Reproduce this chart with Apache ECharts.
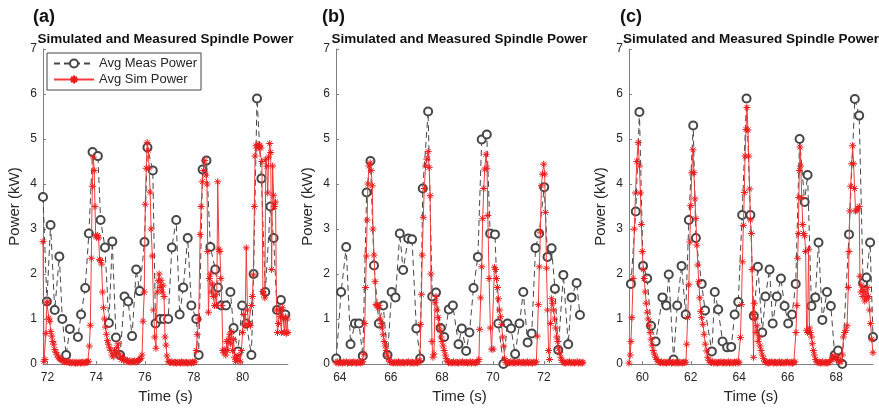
<!DOCTYPE html>
<html>
<head>
<meta charset="utf-8">
<title>Simulated and Measured Spindle Power</title>
<script src="https://cdn.jsdelivr.net/npm/echarts@6/dist/echarts.min.js"></script>
<style>
  html, body { margin: 0; padding: 0; background: #fff; }
  #chart { width: 879px; height: 409px; }
</style>
</head>
<body>
<div id="chart"></div>
<script>
// ---- tick positions (s) ----
const ticksA = [72, 74, 76, 78, 80];
const ticksB = [64, 66, 68, 70, 72];
const ticksC = [60, 62, 64, 66, 68];

// ---- (a) measured average spindle power [time s, kW] ----
const measA = [
  [71.82,3.71],[71.98,1.39],[72.13,3.09],[72.3,1.2],[72.49,2.39],[72.61,1.0],[72.77,0.2],[72.92,0.78],
  [73.25,0.6],[73.38,1.1],[73.55,1.69],[73.7,2.9],[73.85,4.71],[74.07,4.62],[74.18,3.2],[74.36,2.59],
  [74.52,0.91],[74.66,2.72],[74.81,0.59],[74.98,0.2],[75.16,1.5],[75.31,1.39],[75.47,0.62],[75.64,2.1],
  [75.78,1.62],[75.98,2.71],[76.1,4.81],[76.32,4.3],[76.43,0.9],[76.62,1.0],[76.77,1.0],[76.95,1.0],
  [77.1,2.59],[77.28,3.2],[77.42,1.1],[77.57,1.7],[77.75,2.8],[77.9,1.3],[78.1,1.0],[78.2,0.2],
  [78.36,4.32],[78.52,4.52],[78.68,2.6],[78.88,2.1],[78.99,1.7],[79.13,1.3],[79.32,1.3],[79.5,1.6],
  [79.63,0.8],[79.81,0.28],[79.98,1.3],[80.15,0.9],[80.36,0.2],[80.45,2.0],[80.59,5.9],[80.77,4.12],
  [80.93,1.6],[81.14,3.5],[81.27,2.8],[81.41,1.2],[81.57,1.42],[81.75,1.1]
];

// ---- (a) simulated average spindle power [time s, kW] ----
const simA = [
  [71.82,2.72],[71.86,0.06],[71.9,0.1],[71.94,0.68],[71.98,1.36],[72.02,1.38],[72.06,1.02],[72.1,0.95],
  [72.14,0.72],[72.18,0.62],[72.22,0.5],[72.26,0.44],[72.3,0.32],[72.35,0.26],[72.4,0.2],[72.45,0.15],
  [72.5,0.12],[72.55,0.1],[72.6,0.08],[72.65,0.07],[72.7,0.05],[72.75,0.06],[72.8,0.04],[72.85,0.05],
  [72.9,0.03],[72.95,0.04],[73.0,0.02],[73.05,0.04],[73.1,0.03],[73.15,0.02],[73.2,0.03],[73.25,0.02],
  [73.3,0.04],[73.35,0.02],[73.4,0.03],[73.45,0.04],[73.5,0.02],[73.55,0.03],[73.6,0.05],[73.65,0.04],
  [73.69,0.06],[73.72,0.4],[73.76,0.86],[73.8,2.35],[73.84,3.95],[73.88,4.6],[73.92,4.3],[73.95,3.5],
  [73.98,2.85],[74.02,2.82],[74.06,2.86],[74.1,2.8],[74.14,2.32],[74.18,2.3],[74.22,2.22],[74.26,1.6],
  [74.3,1.25],[74.34,1.0],[74.38,0.82],[74.42,0.66],[74.46,0.52],[74.5,0.44],[74.55,0.36],[74.6,0.3],
  [74.65,0.2],[74.7,0.16],[74.75,0.3],[74.8,0.22],[74.85,0.36],[74.9,0.45],[74.94,0.24],[74.98,0.16],
  [75.03,0.1],[75.08,0.14],[75.13,0.08],[75.18,0.1],[75.23,0.06],[75.28,0.08],[75.33,0.05],[75.38,0.07],
  [75.43,0.04],[75.48,0.06],[75.53,0.05],[75.58,0.07],[75.63,0.04],[75.68,0.06],[75.73,0.08],[75.78,0.1],
  [75.83,0.12],[75.88,0.2],[75.92,0.95],[75.97,1.6],[76.01,3.55],[76.05,4.35],[76.09,4.92],[76.13,4.75],
  [76.17,4.35],[76.21,3.82],[76.25,3.0],[76.3,2.4],[76.35,1.2],[76.4,0.6],[76.45,0.35],[76.5,1.6],
  [76.54,1.85],[76.58,2.0],[76.62,1.7],[76.66,1.86],[76.7,1.6],[76.74,1.75],[76.78,1.5],[76.82,0.6],
  [76.86,0.42],[76.9,0.18],[76.95,0.06],[77.0,0.04],[77.05,0.03],[77.1,0.05],[77.15,0.02],[77.2,0.04],
  [77.25,0.03],[77.3,0.02],[77.35,0.04],[77.4,0.03],[77.45,0.02],[77.5,0.05],[77.55,0.03],[77.6,0.02],
  [77.65,0.04],[77.7,0.03],[77.75,0.02],[77.8,0.04],[77.85,0.03],[77.9,0.02],[77.95,0.04],[78.0,0.03],
  [78.05,0.05],[78.1,0.3],[78.14,0.66],[78.2,1.0],[78.26,2.88],[78.3,3.5],[78.35,4.05],[78.4,4.3],
  [78.45,4.52],[78.5,4.2],[78.54,4.0],[78.57,2.5],[78.6,1.15],[78.64,1.9],[78.68,2.0],[78.72,1.6],
  [78.76,1.78],[78.8,1.5],[78.85,1.3],[78.9,1.55],[78.94,1.3],[78.98,4.05],[79.03,2.55],[79.07,2.5],
  [79.11,1.9],[79.15,1.3],[79.19,0.3],[79.23,0.25],[79.27,0.32],[79.31,0.2],[79.35,0.5],[79.39,0.3],
  [79.43,0.55],[79.47,0.66],[79.51,0.45],[79.55,0.72],[79.59,0.3],[79.63,0.55],[79.67,0.15],[79.71,0.06],
  [79.75,0.12],[79.8,0.08],[79.85,0.2],[79.9,0.05],[79.95,0.3],[80.0,0.7],[80.05,1.1],[80.1,0.85],
  [80.15,2.58],[80.2,1.2],[80.24,0.88],[80.28,0.9],[80.32,0.85],[80.36,1.3],[80.4,1.5],[80.44,1.98],
  [80.48,3.5],[80.51,4.62],[80.55,4.85],[80.59,4.8],[80.63,4.88],[80.67,4.82],[80.71,4.86],[80.75,4.8],
  [80.79,4.5],[80.83,1.61],[80.87,1.55],[80.91,1.47],[80.95,4.55],[80.99,4.4],[81.03,3.8],[81.07,4.6],
  [81.11,4.9],[81.15,4.7],[81.19,2.1],[81.23,4.4],[81.27,3.75],[81.31,3.5],[81.35,3.6],[81.39,1.2],
  [81.43,0.7],[81.47,0.9],[81.51,1.2],[81.55,1.05],[81.59,0.7],[81.63,1.25],[81.67,1.0],[81.71,0.7],
  [81.75,1.05],[81.79,0.68],[81.83,1.0],[81.86,0.7]
];

// ---- (b) measured ----
const measB = [
  [63.86,0.12],[64.05,1.6],[64.25,2.6],[64.42,0.44],[64.59,0.9],[64.75,0.9],[64.9,0.18],[65.05,3.81],
  [65.2,4.51],[65.34,2.19],[65.53,0.9],[65.7,1.3],[65.87,0.2],[66.03,1.6],[66.18,1.48],[66.35,2.9],
  [66.48,2.09],[66.68,2.79],[66.83,2.77],[67.0,0.79],[67.15,0.12],[67.25,3.9],[67.46,5.61],[67.62,1.5],
  [67.77,1.59],[67.95,0.8],[68.09,0.6],[68.27,1.21],[68.43,1.3],[68.65,0.44],[68.78,0.79],[68.95,0.29],
  [69.08,0.7],[69.24,1.69],[69.41,2.38],[69.56,4.99],[69.76,5.1],[69.89,2.9],[70.08,2.88],[70.21,0.9],
  [70.41,0.0],[70.57,0.9],[70.71,0.79],[70.87,0.22],[71.04,0.9],[71.19,1.6],[71.36,0.48],[71.52,0.68],
  [71.67,2.58],[71.81,2.9],[72.01,3.93],[72.14,2.38],[72.3,2.57],[72.43,1.67],[72.56,0.31],[72.76,1.98],
  [72.95,0.44],[73.08,1.48],[73.28,1.8],[73.41,1.09]
];

// ---- (b) simulated ----
const simB = [
  [63.85,0.03],[63.9,0.05],[63.95,0.02],[64.0,0.04],[64.05,0.03],[64.1,0.02],[64.15,0.04],[64.2,0.03],
  [64.25,0.05],[64.3,0.02],[64.35,0.03],[64.4,0.04],[64.45,0.02],[64.5,0.03],[64.55,0.05],[64.6,0.03],
  [64.65,0.02],[64.7,0.04],[64.75,0.03],[64.8,0.02],[64.85,0.04],[64.9,0.05],[64.94,0.22],[64.98,0.9],
  [65.01,1.7],[65.04,2.4],[65.07,3.2],[65.1,4.0],[65.14,4.4],[65.19,4.47],[65.23,4.3],[65.27,3.96],
  [65.3,3.0],[65.34,2.42],[65.38,1.83],[65.42,1.32],[65.46,1.3],[65.5,1.25],[65.54,1.3],[65.58,1.0],
  [65.62,0.9],[65.66,0.8],[65.7,0.65],[65.74,0.5],[65.78,0.4],[65.82,0.3],[65.86,0.2],[65.9,0.12],
  [65.95,0.06],[66.0,0.04],[66.05,0.03],[66.1,0.02],[66.15,0.04],[66.2,0.03],[66.25,0.02],[66.3,0.05],
  [66.35,0.03],[66.4,0.02],[66.45,0.04],[66.5,0.03],[66.55,0.02],[66.6,0.04],[66.65,0.03],[66.7,0.05],
  [66.75,0.02],[66.8,0.03],[66.85,0.04],[66.9,0.02],[66.95,0.03],[67.0,0.04],[67.05,0.02],[67.1,0.05],
  [67.14,0.08],[67.17,0.88],[67.2,1.55],[67.23,2.42],[67.27,3.26],[67.31,3.9],[67.36,4.4],[67.41,4.55],
  [67.46,4.72],[67.5,4.37],[67.54,3.74],[67.57,2.0],[67.61,0.5],[67.65,0.15],[67.69,0.22],[67.73,1.36],
  [67.77,1.5],[67.81,1.2],[67.85,1.03],[67.89,0.85],[67.93,0.75],[67.97,0.6],[68.01,0.5],[68.05,0.4],
  [68.09,0.3],[68.13,0.2],[68.17,0.12],[68.21,0.06],[68.26,0.03],[68.31,0.04],[68.36,0.02],[68.41,0.03],
  [68.46,0.05],[68.51,0.02],[68.56,0.04],[68.61,0.03],[68.66,0.02],[68.71,0.04],[68.76,0.03],[68.81,0.05],
  [68.86,0.02],[68.91,0.03],[68.96,0.04],[69.01,0.02],[69.06,0.03],[69.11,0.05],[69.16,0.02],[69.21,0.04],
  [69.26,0.03],[69.31,0.02],[69.36,0.04],[69.41,0.05],[69.45,0.1],[69.48,0.77],[69.52,1.47],[69.56,2.16],
  [69.6,3.23],[69.64,3.9],[69.68,4.33],[69.73,4.66],[69.77,4.35],[69.8,3.3],[69.85,1.9],[69.9,0.8],
  [69.95,0.33],[70.01,0.33],[70.06,2.15],[70.1,2.1],[70.14,1.9],[70.18,1.7],[70.22,1.45],[70.26,1.2],
  [70.3,1.05],[70.34,0.88],[70.38,0.6],[70.42,0.4],[70.46,0.12],[70.5,0.03],[70.55,0.04],[70.6,0.02],
  [70.65,0.03],[70.7,0.05],[70.75,0.02],[70.8,0.04],[70.85,0.03],[70.9,0.02],[70.95,0.04],[71.0,0.03],
  [71.05,0.05],[71.1,0.02],[71.15,0.03],[71.2,0.04],[71.25,0.02],[71.3,0.03],[71.35,0.05],[71.4,0.02],
  [71.45,0.04],[71.5,0.03],[71.55,0.02],[71.6,0.04],[71.65,0.03],[71.7,0.05],[71.74,0.62],[71.78,1.32],
  [71.82,2.16],[71.86,2.93],[71.9,3.96],[71.94,4.22],[71.99,4.44],[72.03,4.22],[72.06,3.37],[72.1,2.13],
  [72.14,1.2],[72.18,0.3],[72.22,0.1],[72.26,0.9],[72.3,1.45],[72.34,1.35],[72.38,1.2],[72.42,1.0],
  [72.46,0.8],[72.5,0.6],[72.54,0.5],[72.58,0.35],[72.62,0.25],[72.66,0.15],[72.7,0.08],[72.75,0.04],
  [72.8,0.03],[72.85,0.02],[72.9,0.04],[72.95,0.03],[73.0,0.05],[73.05,0.02],[73.1,0.03],[73.15,0.04],
  [73.2,0.02],[73.25,0.03],[73.3,0.05],[73.35,0.02],[73.4,0.04],[73.45,0.03],[73.5,0.02],[73.53,0.04]
];

// ---- (c) measured ----
const measC = [
  [59.53,1.78],[59.73,3.39],[59.88,5.6],[60.03,2.18],[60.2,1.9],[60.36,0.85],[60.55,0.5],[60.83,1.48],
  [60.99,1.3],[61.09,1.99],[61.29,0.1],[61.44,1.3],[61.62,2.18],[61.79,1.1],[61.92,3.2],[62.1,5.3],
  [62.21,2.8],[62.45,1.78],[62.59,1.19],[62.87,0.28],[62.99,1.6],[63.13,1.21],[63.31,0.5],[63.5,0.37],
  [63.67,0.38],[63.81,1.1],[63.96,1.38],[64.12,3.31],[64.3,5.9],[64.46,3.31],[64.6,1.07],[64.77,2.16],
  [64.95,0.7],[65.08,1.5],[65.25,2.1],[65.38,0.9],[65.55,1.5],[65.72,1.9],[65.87,1.29],[66.02,0.9],
  [66.18,1.1],[66.33,1.78],[66.49,5.0],[66.7,3.6],[66.82,4.2],[66.98,1.29],[67.14,1.48],[67.27,2.7],
  [67.43,0.98],[67.62,1.6],[67.78,1.29],[67.94,0.2],[68.08,0.3],[68.25,0.0],[68.53,2.88],[68.77,5.89],
  [68.95,5.52],[69.11,1.8],[69.25,1.92],[69.4,2.7],[69.52,0.6]
];

// ---- (c) simulated ----
const simC = [
  [59.45,0.02],[59.5,0.2],[59.53,0.5],[59.57,1.03],[59.62,1.9],[59.67,3.0],[59.72,3.8],[59.77,4.5],
  [59.83,4.92],[59.88,4.4],[59.92,3.8],[59.96,3.1],[60.0,2.5],[60.04,2.1],[60.08,1.9],[60.12,1.6],
  [60.16,1.35],[60.2,1.15],[60.24,1.0],[60.28,0.85],[60.32,0.7],[60.36,0.55],[60.4,0.42],[60.45,0.3],
  [60.5,0.22],[60.55,0.15],[60.6,0.1],[60.65,0.06],[60.7,0.04],[60.75,0.03],[60.8,0.05],[60.85,0.02],
  [60.9,0.04],[60.95,0.03],[61.0,0.02],[61.05,0.04],[61.1,0.03],[61.15,0.05],[61.2,0.02],[61.25,0.03],
  [61.3,0.04],[61.35,0.02],[61.4,0.03],[61.45,0.05],[61.5,0.02],[61.55,0.04],[61.6,0.03],[61.65,0.02],
  [61.7,0.04],[61.75,0.03],[61.8,0.04],[61.83,0.44],[61.87,1.03],[61.92,1.76],[61.96,2.71],[62.0,3.52],
  [62.04,4.25],[62.09,4.76],[62.13,4.25],[62.17,3.67],[62.21,3.23],[62.25,2.64],[62.29,2.2],[62.33,1.83],
  [62.37,1.47],[62.41,1.17],[62.45,1.03],[62.5,0.88],[62.55,0.66],[62.6,0.44],[62.65,0.29],[62.7,0.15],
  [62.75,0.08],[62.8,0.04],[62.85,0.03],[62.9,0.05],[62.95,0.02],[63.0,0.04],[63.05,0.03],[63.1,0.02],
  [63.15,0.04],[63.2,0.03],[63.25,0.05],[63.3,0.02],[63.35,0.03],[63.4,0.04],[63.45,0.02],[63.5,0.03],
  [63.55,0.05],[63.6,0.02],[63.65,0.04],[63.7,0.03],[63.75,0.02],[63.8,0.04],[63.85,0.03],[63.9,0.05],
  [63.95,0.02],[64.0,0.04],[64.05,0.59],[64.09,1.32],[64.13,2.27],[64.17,3.08],[64.21,3.81],[64.24,4.62],
  [64.28,5.21],[64.32,5.7],[64.36,5.2],[64.39,4.62],[64.43,3.89],[64.46,3.2],[64.5,2.9],[64.53,2.1],
  [64.56,1.1],[64.59,0.15],[64.62,1.35],[64.66,1.0],[64.7,0.7],[64.74,0.85],[64.78,0.5],[64.82,0.6],
  [64.86,0.4],[64.9,0.3],[64.95,0.2],[65.0,0.12],[65.05,0.06],[65.1,0.04],[65.15,0.03],[65.2,0.02],
  [65.25,0.04],[65.3,0.03],[65.35,0.05],[65.4,0.02],[65.45,0.03],[65.5,0.04],[65.55,0.02],[65.6,0.03],
  [65.65,0.05],[65.7,0.02],[65.75,0.04],[65.8,0.03],[65.85,0.02],[65.9,0.04],[65.95,0.03],[66.0,0.05],
  [66.05,0.02],[66.1,0.03],[66.15,0.04],[66.2,0.02],[66.25,0.03],[66.3,0.05],[66.34,0.7],[66.38,1.3],
  [66.41,2.35],[66.44,2.9],[66.46,3.7],[66.48,4.3],[66.51,4.82],[66.54,4.4],[66.58,3.7],[66.62,3.1],
  [66.66,2.9],[66.7,2.85],[66.74,2.5],[66.78,0.75],[66.82,0.7],[66.86,2.55],[66.9,0.8],[66.94,0.7],
  [66.98,0.6],[67.02,0.45],[67.06,0.3],[67.1,0.2],[67.15,0.1],[67.2,0.05],[67.25,0.03],[67.3,0.04],
  [67.35,0.02],[67.4,0.03],[67.45,0.05],[67.5,0.02],[67.55,0.04],[67.6,0.03],[67.65,0.02],[67.7,0.04],
  [67.75,0.06],[67.8,0.1],[67.85,0.15],[67.9,0.12],[67.95,0.18],[68.0,0.1],[68.05,0.14],[68.1,0.08],
  [68.15,0.05],[68.2,0.05],[68.26,0.2],[68.3,0.6],[68.35,0.7],[68.4,0.75],[68.45,0.85],[68.5,1.7],
  [68.53,2.5],[68.56,3.4],[68.6,3.95],[68.64,4.45],[68.68,4.85],[68.72,4.45],[68.76,3.9],[68.8,3.4],
  [68.85,3.42],[68.9,3.45],[68.95,3.5],[68.98,1.95],[69.02,1.6],[69.06,1.75],[69.1,1.5],[69.14,1.65],
  [69.18,1.4],[69.22,1.6],[69.26,1.45],[69.3,1.7],[69.34,1.5],[69.38,1.2],[69.42,0.9],[69.47,0.55],
  [69.52,0.25]
];

// ---- drawing ----
const FONT = '"Liberation Sans", Arial, Helvetica, sans-serif';
const TEXT = '#262626';
const AXIS = '#808080';
const MEAS_COLOR = '#474747';
const SIM_LINE = '#f43c3c';
const SIM_MARK = '#ec1c1c';
// open asterisk drawn with strokes
const ASTERISK = 'path://M5 0L5 10M0 5L10 5M1.5 1.5L8.5 8.5M8.5 1.5L1.5 8.5';

const panels = [
  { tag: '(a)', meas: measA, sim: simA, ticks: ticksA, xMin: 71.82, xMax: 81.86, left: 43,  width: 245, tagX: 33 },
  { tag: '(b)', meas: measB, sim: simB, ticks: ticksB, xMin: 63.85, xMax: 73.53, left: 336, width: 247, tagX: 322 },
  { tag: '(c)', meas: measC, sim: simC, ticks: ticksC, xMin: 59.45, xMax: 69.52, left: 629, width: 244, tagX: 620 }
];
const TOP = 49, HEIGHT = 318;

const grid = [], xAxis = [], yAxis = [], series = [], graphic = [];

panels.forEach((p, i) => {
  grid.push({ left: p.left, top: TOP, width: p.width, height: HEIGHT, containLabel: false });

  xAxis.push({
    gridIndex: i, type: 'value', min: p.xMin, max: p.xMax,
    name: 'Time (s)', nameLocation: 'middle', nameGap: 25,
    nameTextStyle: { fontSize: 15, color: TEXT, fontFamily: FONT },
    axisLine: { show: true, onZero: false, lineStyle: { color: AXIS, width: 1 } },
    axisTick: { show: true, inside: true, length: 3, customValues: p.ticks, lineStyle: { color: AXIS } },
    axisLabel: { customValues: p.ticks, margin: 8, fontSize: 12, color: TEXT, fontFamily: FONT },
    splitLine: { show: false }
  });

  yAxis.push({
    gridIndex: i, type: 'value', min: 0, max: 7, interval: 1,
    name: 'Power (kW)', nameLocation: 'middle', nameGap: 21,
    nameTextStyle: { fontSize: 15, color: TEXT, fontFamily: FONT },
    axisLine: { show: true, lineStyle: { color: AXIS, width: 1 } },
    axisTick: { show: true, inside: true, length: 3, lineStyle: { color: AXIS } },
    axisLabel: { margin: 6, fontSize: 12, color: TEXT, fontFamily: FONT },
    splitLine: { show: false }
  });

  series.push({
    name: 'Avg Meas Power', type: 'line', xAxisIndex: i, yAxisIndex: i,
    data: p.meas, symbol: 'emptyCircle', symbolSize: 8, showSymbol: true,
    lineStyle: { color: MEAS_COLOR, width: 1, type: [6, 4] },
    itemStyle: { color: MEAS_COLOR, borderColor: MEAS_COLOR, borderWidth: 0.9 },
    emphasis: { disabled: true }, z: 2
  });
  series.push({
    name: 'Avg Sim Power', type: 'line', xAxisIndex: i, yAxisIndex: i,
    data: p.sim, symbol: ASTERISK, symbolSize: 7, showSymbol: true,
    lineStyle: { color: SIM_LINE, width: 1 },
    itemStyle: { color: SIM_MARK, borderColor: SIM_MARK, borderWidth: 1 },
    emphasis: { disabled: true }, z: 3
  });

  graphic.push({
    type: 'text', x: p.tagX, y: 17,
    style: { text: p.tag, fontSize: 18, fontWeight: 'bold', fontFamily: FONT, fill: '#111', verticalAlign: 'middle' }
  });
  graphic.push({
    type: 'text', x: p.left + p.width / 2, y: 39,
    style: { text: 'Simulated and Measured Spindle Power', fontSize: 13.5, fontWeight: 'bold', fontFamily: FONT,
             fill: '#111', align: 'center', verticalAlign: 'middle' }
  });
});

const chart = echarts.init(document.getElementById('chart'), null, { renderer: 'canvas' });
chart.setOption({
  animation: false,
  backgroundColor: '#fff',
  grid, xAxis, yAxis, series, graphic,
  legend: {
    data: ['Avg Meas Power', 'Avg Sim Power'],
    orient: 'vertical', left: 47, top: 53,
    itemWidth: 40, itemHeight: 10, itemGap: 3,
    padding: [4, 4, 4, 6],
    borderColor: '#444', borderWidth: 1, backgroundColor: '#fff',
    selectedMode: false,
    textStyle: { fontSize: 13, color: TEXT, fontFamily: FONT }
  }
});
</script>
</body>
</html>
